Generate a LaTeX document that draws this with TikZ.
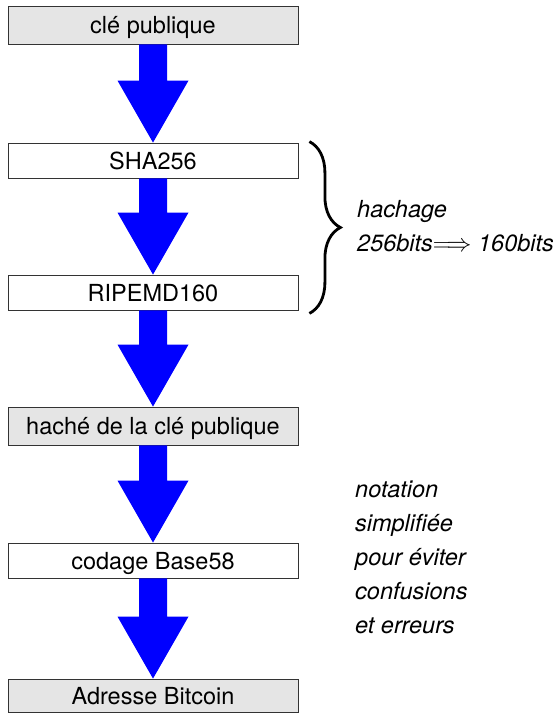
\documentclass[tikz,border=0pt]{standalone}
\usepackage{fontspec}
\setmainfont{TeX Gyre Heros}
\usetikzlibrary{calc,decorations.pathreplacing}

\begin{document}
\begin{tikzpicture}[x=1pt, y=-1pt,
    font=\fontsize{23.5}{34}\selectfont,
    boite/.style={draw=black!80, line width=0.8pt, minimum width=290pt,
        minimum height=35pt, inner sep=0pt, text height=17.5pt, text depth=0pt},
    grise/.style={boite, fill=black!10, minimum height=38pt},
    remarque/.style={anchor=north west, inner sep=0pt, align=left, font=\fontsize{23.5}{34}\selectfont\itshape},
    fleche/.style={fill=blue}]
    \useasboundingbox (0,0) rectangle (555,713);

    % les étapes
    \node[grise] (cle) at (153,25) {clé publique};
    \node[boite] (sha) at (153,160.5) {SHA256};
    \node[boite] (ripemd) at (153,292.5) {RIPEMD160};
    \node[grise] (hache) at (153,426) {haché de la clé publique};
    \node[boite] (codage) at (153,560.5) {codage Base58};
    \node[grise, minimum height=33pt] (adresse) at (153,695.5) {Adresse Bitcoin};

    % grosses flèches bleues
    \foreach \a/\b in {cle/sha, sha/ripemd, ripemd/hache, hache/codage, codage/adresse}
        \fill[fleche] let \p1 = (\a.south), \p2 = (\b.north) in
            (\x1-14pt,\y1) -- (\x1+14pt,\y1) -- (\x1+14pt,\y2+62pt) -- (\x1+35.5pt,\y2+62pt)
            -- (\x1,\y2) -- (\x1-35.5pt,\y2+62pt) -- (\x1-14pt,\y2+62pt) -- cycle;

    % accolade du hachage
    \draw[line width=2.8pt, decorate, decoration={brace, amplitude=31pt}]
        ($(sha.north east)+(11,-1)$) -- ($(ripemd.south east)+(11,3)$);

    % remarques
    \node[remarque] (hachage) at (357,200) {hachage\\256bits$\Longrightarrow$ 160bits};
    \node[remarque] (note) at (355,481) {notation\\simplifiée\\pour éviter\\confusions\\et erreurs};
\end{tikzpicture}
\end{document}
